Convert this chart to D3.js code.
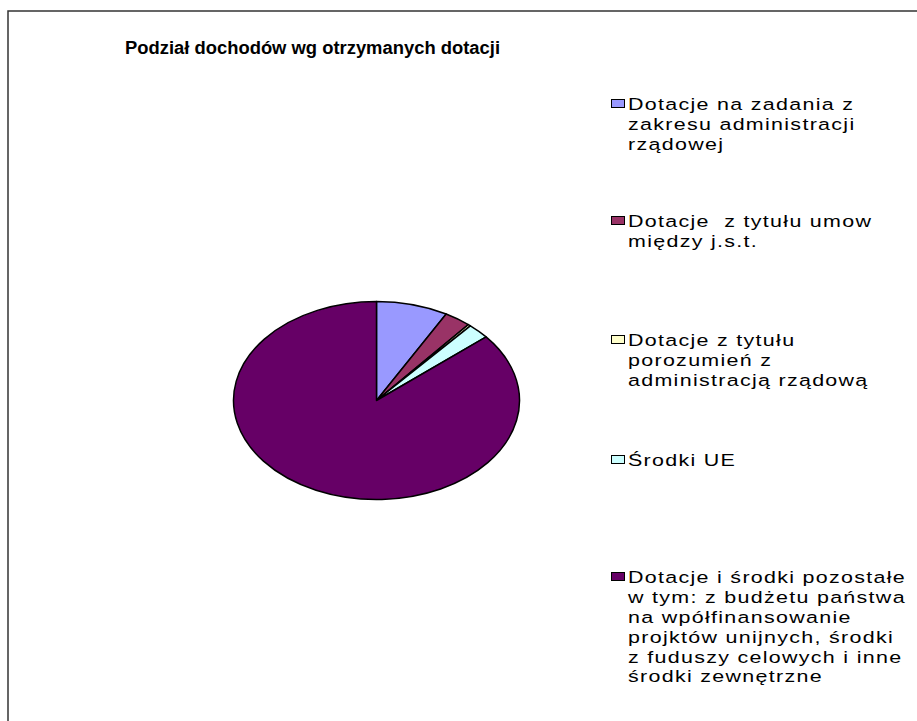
<!DOCTYPE html>
<html>
<head>
<meta charset="utf-8">
<script src="https://cdn.jsdelivr.net/npm/d3@7"></script>
<style>
  body { margin: 0; background: #fff; }
  svg { display: block; font-family: "Liberation Sans", Arial, sans-serif; }
</style>
</head>
<body>
<div class="chart"></div>
<script>
const title = "Podział dochodów wg otrzymanych dotacji";

const categories = [
  "Dotacje na zadania z\nzakresu administracji\nrządowej",
  "Dotacje  z tytułu umow\nmiędzy j.s.t.",
  "Dotacje z tytułu\nporozumień z\nadministracją rządową",
  "Środki UE",
  "Dotacje i środki pozostałe\nw tym: z budżetu państwa\nna wpółfinansowanie\nprojktów unijnych, środki\nz fuduszy celowych i inne\nśrodki zewnętrzne"
];

// percent shares
const shares = [8.1, 3.0, 0.3, 2.5, 86.1];

const colors = ["#9999ff", "#993366", "#ffffcc", "#ccffff", "#660066"];

const width = 917,
  height = 721,
  cx = 376.5,
  cy = 400.5,
  rx = 143,
  ry = 99;

// baseline of the first line of every legend entry
const legendTops = [110, 227, 346, 466, 583];

const svg = d3
  .select(".chart")
  .append("svg")
  .attr("width", width)
  .attr("height", height);

// frame (cut off at right and bottom)
svg
  .append("path")
  .attr("d", `M${width + 2},11 H8 V${height + 2}`)
  .attr("fill", "none")
  .attr("stroke", "#333")
  .attr("stroke-width", 1.5);

svg
  .append("text")
  .attr("x", 125)
  .attr("y", 54)
  .attr("textLength", 375)
  .attr("lengthAdjust", "spacingAndGlyphs")
  .style("font-weight", "bold")
  .style("font-size", "18px")
  .text(title);

const pie = d3
  .pie()
  .sort(null)
  .value((d) => d);

const arc = d3.arc().innerRadius(0).outerRadius(rx);

svg
  .append("g")
  .attr("transform", `translate(${cx},${cy}) scale(1,${ry / rx})`)
  .selectAll("path")
  .data(pie(shares))
  .enter()
  .append("path")
  .attr("d", arc)
  .attr("fill", (d, i) => colors[i])
  .attr("stroke", "#000")
  .attr("stroke-width", 1.5)
  .attr("stroke-linejoin", "round")
  .style("vector-effect", "non-scaling-stroke");

const legend = svg
  .selectAll(".legend-item")
  .data(categories)
  .enter()
  .append("g")
  .attr("class", "legend-item")
  .attr("transform", (d, i) => `translate(0,${legendTops[i]})`);

legend
  .append("rect")
  .attr("x", 611.5)
  .attr("y", -10.5)
  .attr("width", 13)
  .attr("height", 8)
  .attr("fill", (d, i) => colors[i])
  .attr("stroke", "#000")
  .attr("stroke-width", 1);

// legend text in the reference is stretched sideways
legend
  .append("text")
  .attr("transform", "translate(628,0) scale(1.3,1)")
  .style("font-size", "16.5px")
  .style("letter-spacing", "1px")
  .style("white-space", "pre")
  .attr("fill", "#000")
  .selectAll("tspan")
  .data((d) => d.split("\n"))
  .enter()
  .append("tspan")
  .attr("x", 0)
  .attr("y", (d, j) => j * 19.9)
  .text((d) => d);
</script>
</body>
</html>
